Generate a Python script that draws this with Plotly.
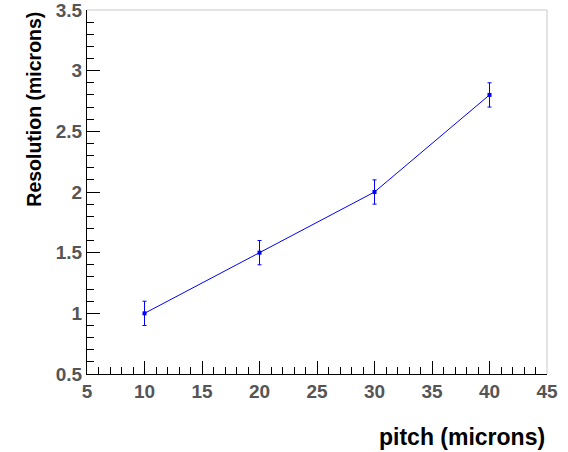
import plotly.graph_objects as go

pitch = [10, 20, 30, 40]
resolution = [1.0, 1.5, 2.0, 2.8]
res_err = [0.1, 0.1, 0.1, 0.1]

fig = go.Figure()
fig.add_trace(go.Scatter(
    x=pitch, y=resolution,
    mode="lines+markers",
    line=dict(color="#0000ff", width=1),
    marker=dict(symbol="square", size=4, color="#0000ff"),
    error_y=dict(type="data", array=res_err, visible=True, color="#0000ff", thickness=1, width=2),
    showlegend=False,
))

font_fam = "Liberation Sans, Arial, sans-serif"
tick_font = dict(family=font_fam, size=19, color="#555555", weight="bold")
fig.update_layout(
    width=568, height=452,
    margin=dict(l=87, r=21, t=10, b=78),
    paper_bgcolor="white", plot_bgcolor="white",
    xaxis=dict(
        range=[5, 45], dtick=5, tick0=5, automargin=False,
        ticks="inside", ticklen=13, tickcolor="black", tickwidth=1,
        showline=True, linecolor="black", linewidth=1,
        showgrid=False, zeroline=False,
        tickfont=tick_font, ticklabelstandoff=0, ticklabeloverflow="allow",
        minor=dict(dtick=1, ticks="inside", ticklen=7, tickcolor="black", showgrid=False),
    ),
    yaxis=dict(
        range=[0.5, 3.5], dtick=0.5, tick0=0.5, automargin=False,
        ticks="inside", ticklen=13, tickcolor="black", tickwidth=1,
        showline=True, linecolor="black", linewidth=1,
        showgrid=False, zeroline=False,
        tickfont=tick_font, ticklabelstandoff=0, ticklabeloverflow="allow",
        minor=dict(dtick=0.1, ticks="inside", ticklen=7, tickcolor="black", showgrid=False),
    ),
    shapes=[
        dict(type="line", xref="paper", yref="paper", x0=0, x1=1, y0=1, y1=1,
             line=dict(color="#c8c8c8", width=1)),
        dict(type="line", xref="paper", yref="paper", x0=1, x1=1, y0=0, y1=1,
             line=dict(color="#c8c8c8", width=1)),
    ],
    annotations=[
        dict(text="<b>pitch (microns)</b>", xref="paper", yref="paper", x=1.0, y=-0.173,
             xanchor="right", yanchor="middle", showarrow=False,
             font=dict(family=font_fam, size=23, color="black")),
        dict(text="<b>Resolution (microns)</b>", xref="paper", yref="paper", x=-0.117, y=1.0,
             xanchor="center", yanchor="top", textangle=-90, showarrow=False,
             font=dict(family=font_fam, size=19.5, color="black")),
    ],
)

fig.write_html("out.html")
